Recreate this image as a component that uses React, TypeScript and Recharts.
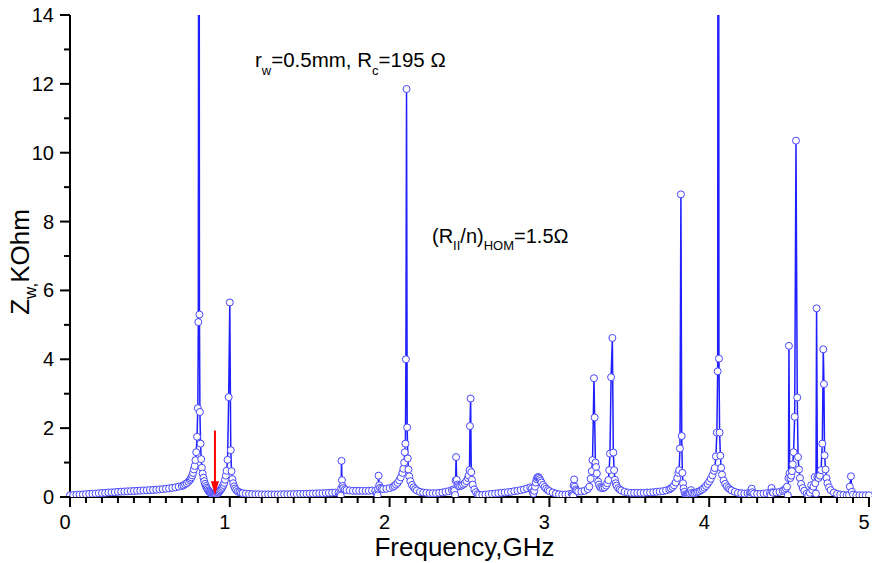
import { Line, LineChart, ReferenceDot, ReferenceLine, XAxis, YAxis } from "recharts";

// [frequency GHz, impedance KOhm], split by frequency band
const band0 = [
  [0.0, 0.05], [0.02, 0.055], [0.04, 0.06], [0.06, 0.07], [0.08, 0.075], [0.1, 0.08], [0.12, 0.09],
  [0.14, 0.095], [0.16, 0.1], [0.18, 0.11], [0.2, 0.115], [0.22, 0.12], [0.24, 0.13], [0.26, 0.135],
  [0.28, 0.14], [0.3, 0.15], [0.32, 0.155], [0.34, 0.16], [0.36, 0.165], [0.38, 0.17], [0.4, 0.175],
  [0.42, 0.18], [0.44, 0.185], [0.46, 0.19], [0.48, 0.195], [0.5, 0.2], [0.52, 0.205], [0.54, 0.21],
  [0.56, 0.22], [0.58, 0.23], [0.6, 0.24], [0.62, 0.25], [0.64, 0.265], [0.66, 0.28], [0.68, 0.3],
  [0.7, 0.32], [0.71, 0.34], [0.72, 0.37], [0.73, 0.4], [0.74, 0.44], [0.75, 0.49], [0.755, 0.53],
  [0.76, 0.57], [0.765, 0.63], [0.77, 0.7], [0.775, 0.8], [0.78, 0.9], [0.785, 1.07], [0.79, 1.3],
  [0.795, 1.75], [0.8, 2.58], [0.803, 5.08], [0.807, 32], [0.81, 5.3], [0.813, 2.47], [0.817, 1.55],
  [0.821, 1.1], [0.825, 0.85], [0.83, 0.68], [0.835, 0.56], [0.84, 0.46], [0.845, 0.38], [0.85, 0.32],
  [0.855, 0.27], [0.86, 0.23], [0.865, 0.19], [0.87, 0.16], [0.875, 0.14], [0.88, 0.12], [0.885, 0.1],
  [0.89, 0.08], [0.895, 0.07], [0.9, 0.06], [0.905, 0.055], [0.91, 0.06], [0.915, 0.07], [0.92, 0.09],
  [0.925, 0.11], [0.93, 0.13], [0.935, 0.16], [0.94, 0.19], [0.945, 0.22], [0.95, 0.26], [0.955, 0.3],
  [0.96, 0.35], [0.965, 0.41], [0.97, 0.5], [0.975, 0.62], [0.98, 0.76], [0.986, 1.08], [0.993, 2.9],
  [1.0, 5.65], [1.006, 1.36], [1.011, 0.75], [1.016, 0.52], [1.021, 0.4], [1.027, 0.31], [1.033, 0.25],
  [1.04, 0.2], [1.05, 0.16], [1.06, 0.14], [1.07, 0.12], [1.08, 0.11], [1.1, 0.1], [1.12, 0.09],
  [1.14, 0.085], [1.16, 0.08], [1.18, 0.08],
];

const band1 = [
  [1.2, 0.075], [1.22, 0.075], [1.24, 0.075], [1.26, 0.075], [1.28, 0.075], [1.3, 0.075], [1.32, 0.078],
  [1.34, 0.08], [1.36, 0.08], [1.38, 0.082], [1.4, 0.085], [1.42, 0.087], [1.44, 0.09], [1.46, 0.092],
  [1.48, 0.095], [1.5, 0.1], [1.52, 0.1], [1.54, 0.105], [1.56, 0.11], [1.58, 0.11], [1.6, 0.115],
  [1.62, 0.12], [1.64, 0.125], [1.66, 0.13], [1.68, 0.12], [1.69, 0.09], [1.694, 0.04], [1.697, 0.25],
  [1.699, 1.05], [1.702, 0.49], [1.706, 0.32], [1.71, 0.26], [1.72, 0.22], [1.73, 0.2], [1.75, 0.19],
  [1.77, 0.18], [1.79, 0.18], [1.81, 0.18], [1.83, 0.18], [1.85, 0.18], [1.87, 0.18], [1.89, 0.19],
  [1.91, 0.18], [1.92, 0.1], [1.925, 0.05], [1.928, 0.24], [1.931, 0.62], [1.935, 0.34], [1.94, 0.27],
  [1.95, 0.24], [1.96, 0.23], [1.98, 0.24], [2.0, 0.26], [2.02, 0.29], [2.03, 0.32], [2.04, 0.36],
  [2.05, 0.41], [2.06, 0.48], [2.07, 0.57], [2.08, 0.7], [2.086, 0.82], [2.091, 1.0], [2.095, 1.3],
  [2.099, 1.55], [2.102, 4.0], [2.106, 11.85], [2.11, 2.02], [2.114, 1.12], [2.118, 0.8], [2.123, 0.6],
  [2.13, 0.46], [2.14, 0.35], [2.15, 0.28], [2.16, 0.23], [2.17, 0.19], [2.19, 0.15], [2.21, 0.13],
  [2.23, 0.12], [2.25, 0.11], [2.27, 0.11], [2.29, 0.11], [2.31, 0.12], [2.33, 0.13], [2.35, 0.15],
  [2.37, 0.17], [2.39, 0.2], [2.4, 0.22], [2.405, 0.18], [2.41, 0.06], [2.413, 0.48], [2.416, 1.16],
  [2.42, 0.5], [2.425, 0.36], [2.43, 0.32], [2.44, 0.31], [2.45, 0.33], [2.46, 0.36], [2.47, 0.4],
  [2.48, 0.46], [2.49, 0.55], [2.495, 0.62], [2.5, 0.78], [2.503, 2.06], [2.507, 2.86], [2.511, 0.72],
  [2.515, 0.5], [2.52, 0.36], [2.53, 0.22], [2.54, 0.14], [2.55, 0.08], [2.56, 0.06], [2.58, 0.06],
];

const band2 = [
  [2.6, 0.07], [2.62, 0.08], [2.64, 0.09], [2.66, 0.1], [2.68, 0.11], [2.7, 0.12], [2.72, 0.13],
  [2.74, 0.14], [2.76, 0.15], [2.78, 0.17], [2.8, 0.18], [2.82, 0.2], [2.84, 0.22], [2.86, 0.25],
  [2.88, 0.28], [2.89, 0.25], [2.895, 0.15], [2.9, 0.1], [2.905, 0.18], [2.91, 0.3], [2.915, 0.42],
  [2.92, 0.52], [2.925, 0.57], [2.93, 0.58], [2.935, 0.56], [2.94, 0.52], [2.945, 0.47], [2.95, 0.42],
  [2.96, 0.35], [2.97, 0.29], [2.98, 0.24], [2.99, 0.2], [3.0, 0.17], [3.02, 0.13], [3.04, 0.1],
  [3.06, 0.08], [3.08, 0.07], [3.1, 0.07], [3.12, 0.08], [3.14, 0.1], [3.145, 0.06], [3.149, 0.03],
  [3.152, 0.34], [3.155, 0.51], [3.159, 0.3], [3.165, 0.22], [3.17, 0.18], [3.18, 0.16], [3.2, 0.16],
  [3.22, 0.18], [3.24, 0.23], [3.25, 0.3], [3.258, 0.53], [3.265, 0.75], [3.27, 1.07], [3.279, 3.45],
  [3.283, 2.31], [3.288, 1.0], [3.292, 0.87], [3.297, 0.68], [3.305, 0.45], [3.31, 0.36], [3.317, 0.29],
  [3.325, 0.26], [3.335, 0.26], [3.345, 0.28], [3.355, 0.33], [3.362, 0.4], [3.369, 0.49], [3.374, 0.78],
  [3.379, 1.26], [3.386, 3.48], [3.394, 4.62], [3.4, 1.29], [3.405, 0.78], [3.41, 0.5], [3.415, 0.4],
  [3.42, 0.33], [3.43, 0.26], [3.44, 0.22], [3.45, 0.19], [3.47, 0.15], [3.49, 0.13], [3.51, 0.12],
  [3.53, 0.12], [3.55, 0.12], [3.57, 0.12], [3.59, 0.12],
];

const band3 = [
  [3.61, 0.13], [3.63, 0.13], [3.65, 0.14], [3.67, 0.15], [3.69, 0.16], [3.71, 0.17], [3.73, 0.19],
  [3.75, 0.22], [3.76, 0.25], [3.77, 0.29], [3.78, 0.34], [3.79, 0.42], [3.8, 0.55], [3.807, 0.7],
  [3.812, 0.78], [3.817, 1.41], [3.823, 8.79], [3.828, 1.77], [3.832, 0.7], [3.836, 0.4], [3.84, 0.25],
  [3.845, 0.15], [3.85, 0.08], [3.855, 0.05], [3.86, 0.04], [3.865, 0.06], [3.87, 0.08], [3.875, 0.12],
  [3.88, 0.1], [3.886, 0.2], [3.89, 0.12], [3.9, 0.1], [3.91, 0.11], [3.92, 0.13], [3.93, 0.15],
  [3.94, 0.17], [3.95, 0.2], [3.96, 0.23], [3.97, 0.27], [3.98, 0.32], [3.99, 0.38], [4.0, 0.45],
  [4.01, 0.53], [4.02, 0.63], [4.03, 0.76], [4.035, 0.84], [4.042, 1.18], [4.048, 1.87], [4.053, 3.65],
  [4.057, 40], [4.061, 4.02], [4.065, 1.87], [4.07, 1.2], [4.075, 0.85], [4.08, 0.65], [4.09, 0.48],
  [4.1, 0.38], [4.11, 0.31], [4.12, 0.26], [4.13, 0.22], [4.14, 0.19], [4.16, 0.15], [4.18, 0.12],
  [4.2, 0.11], [4.22, 0.1], [4.24, 0.11], [4.255, 0.12], [4.26, 0.05], [4.263, 0.12], [4.266, 0.24],
  [4.27, 0.14], [4.28, 0.1], [4.3, 0.09], [4.32, 0.09], [4.34, 0.1], [4.36, 0.11], [4.38, 0.12],
  [4.385, 0.06], [4.39, 0.26], [4.395, 0.14], [4.4, 0.12], [4.42, 0.13], [4.44, 0.15], [4.46, 0.18],
  [4.47, 0.21], [4.48, 0.25], [4.487, 0.3], [4.492, 0.05], [4.496, 0.55], [4.499, 4.39], [4.503, 0.69],
  [4.508, 0.55], [4.513, 0.62], [4.518, 0.75], [4.523, 0.95], [4.528, 1.3], [4.535, 2.33], [4.543, 10.35],
  [4.551, 2.89], [4.556, 1.16], [4.562, 0.8], [4.568, 0.55], [4.575, 0.38], [4.585, 0.26], [4.595, 0.18],
  [4.61, 0.1], [4.62, 0.05], [4.63, 0.12], [4.638, 0.34], [4.645, 0.2], [4.652, 0.3], [4.66, 0.58],
  [4.664, 0.4], [4.668, 0.1], [4.672, 5.48], [4.677, 0.58], [4.684, 0.55], [4.692, 0.62], [4.7, 0.78],
  [4.708, 1.55], [4.714, 4.29], [4.718, 3.28], [4.722, 1.21], [4.728, 0.8], [4.734, 0.55], [4.74, 0.4],
  [4.75, 0.28], [4.76, 0.2], [4.78, 0.13], [4.8, 0.09], [4.82, 0.07], [4.84, 0.06], [4.86, 0.05],
  [4.875, 0.06], [4.88, 0.3], [4.887, 0.6], [4.893, 0.15], [4.9, 0.07], [4.92, 0.05], [4.94, 0.05],
  [4.96, 0.05], [4.98, 0.05], [5.0, 0.05],
];

const xTicks = [
  0, 0.1, 0.2, 0.3, 0.4, 0.5, 0.6, 0.7, 0.8, 0.9, 1, 1.1, 1.2, 1.3, 1.4, 1.5, 1.6, 1.7, 1.8, 1.9,
  2, 2.1, 2.2, 2.3, 2.4, 2.5, 2.6, 2.7, 2.8, 2.9, 3, 3.1, 3.2, 3.3, 3.4, 3.5, 3.6, 3.7, 3.8, 3.9,
  4, 4.1, 4.2, 4.3, 4.4, 4.5, 4.6, 4.7, 4.8, 4.9, 5,
];
const xLabelled = [0, 1, 2, 3, 4, 5];
const yTicks = [0, 1, 2, 3, 4, 5, 6, 7, 8, 9, 10, 11, 12, 13, 14];
const yLabelled = [0, 2, 4, 6, 8, 10, 12, 14];

// red marker arrow (frequency, top, tip)
const arrowFreq = 0.907;
const arrowTop = 1.93;
const arrowTip = 0.05;

const data = [...band0, ...band1, ...band2, ...band3].map(([freq, z]) => ({ freq, z }));

const FONT = "'Liberation Sans', Arial, sans-serif";

function XTick(props: any) {
  const { x, y, payload } = props;
  const major = xLabelled.includes(payload.value);
  return (
    <g>
      <line x1={x} x2={x} y1={y} y2={y + (major ? 10 : 6)} stroke="#000" strokeWidth={2} />
      {major && (
        <text x={x - 5} y={y + 32} textAnchor="middle" fontSize={20} fontFamily={FONT} fill="#000">
          {payload.value}
        </text>
      )}
    </g>
  );
}

function YTick(props: any) {
  const { x, y, payload } = props;
  const major = yLabelled.includes(payload.value);
  return (
    <g>
      <line x1={x} x2={x - (major ? 10 : 6)} y1={y} y2={y} stroke="#000" strokeWidth={2} />
      {major && (
        <text x={x - 16} y={y + 7} textAnchor="end" fontSize={20} fontFamily={FONT} fill="#000">
          {payload.value}
        </text>
      )}
    </g>
  );
}

function ArrowHead(props: any) {
  const { cx, cy } = props;
  return <polygon points={`${cx - 4},${cy - 14} ${cx + 4},${cy - 14} ${cx},${cy}`} fill="#ff0000" />;
}

function XTitle(props: any) {
  const { viewBox } = props;
  const cx = viewBox.x + viewBox.width / 2 - 5;
  return (
    <text x={cx} y={556} textAnchor="middle" fontSize={26} fontFamily={FONT} fill="#000">
      Frequency,GHz
    </text>
  );
}

export default function App() {
  return (
    <div style={{ position: "relative", width: 872, height: 563, background: "#fff", fontFamily: FONT }}>
      <style>{"body{margin:0}"}</style>
      <LineChart width={872} height={563} data={data} margin={{ top: 15, right: 3, bottom: 0, left: 0 }}>
        <XAxis
          dataKey="freq"
          type="number"
          domain={[0, 5]}
          ticks={xTicks}
          interval={0}
          tickLine={false}
          tickSize={0}
          tickMargin={0}
          tick={(p: any) => <XTick {...p} />}
          axisLine={{ stroke: "#000", strokeWidth: 2 }}
          height={66}
          label={{ content: (p: any) => <XTitle {...p} /> }}
        />
        <YAxis
          type="number"
          domain={[0, 14]}
          ticks={yTicks}
          interval={0}
          allowDataOverflow
          tickLine={false}
          tickSize={0}
          tickMargin={0}
          tick={(p: any) => <YTick {...p} />}
          axisLine={{ stroke: "#000", strokeWidth: 2 }}
          width={70}
        />
        <Line
          type="linear"
          dataKey="z"
          stroke="#1f1fff"
          strokeWidth={1.5}
          dot={{ r: 3.5, stroke: "#4646ff", strokeWidth: 1, fill: "#fff" }}
          activeDot={false}
          isAnimationActive={false}
        />
        <ReferenceLine
          segment={[
            { x: arrowFreq, y: arrowTop },
            { x: arrowFreq, y: arrowTip + 0.35 },
          ]}
          stroke="#ff0000"
          strokeWidth={2}
        />
        <ReferenceDot x={arrowFreq} y={arrowTip} shape={(p: any) => <ArrowHead {...p} />} />
      </LineChart>
      <svg width={872} height={563} style={{ position: "absolute", left: 0, top: 0, pointerEvents: "none" }}>
        <text transform="translate(29,262) rotate(-90)" textAnchor="middle" fontSize={26} fontFamily={FONT} fill="#000">
          Z<tspan fontSize={17} dy={7}>w,</tspan>
          <tspan dy={-7}>KOhm</tspan>
        </text>
        <text x={255} y={67} fontSize={20.5} fontFamily={FONT} fill="#000">
          r<tspan fontSize={13} dy={8}>w</tspan>
          <tspan dy={-8}>=0.5mm, R</tspan>
          <tspan fontSize={13} dy={8}>c</tspan>
          <tspan dy={-8}>=195 Ω</tspan>
        </text>
        <text x={432} y={243} fontSize={20} fontFamily={FONT} fill="#000">
          (R<tspan fontSize={13} dy={7}>II</tspan>
          <tspan dy={-7}>/n)</tspan>
          <tspan fontSize={13} dy={7}>HOM</tspan>
          <tspan dy={-7}>=1.5Ω</tspan>
        </text>
      </svg>
    </div>
  );
}
